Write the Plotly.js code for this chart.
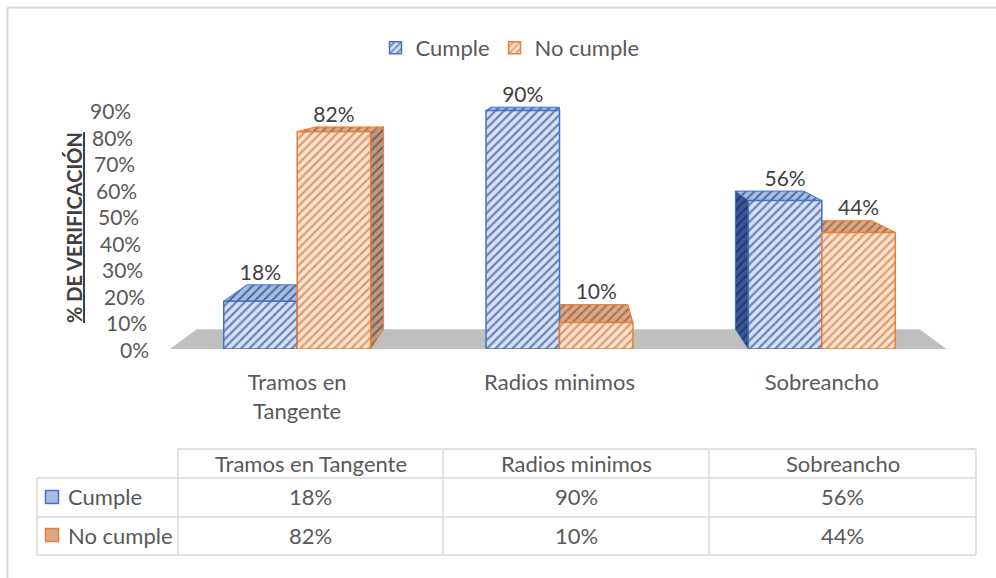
<!DOCTYPE html>
<html><head><meta charset="utf-8">
<script src="https://cdn.plot.ly/plotly-3.0.1.min.js"></script>
<style>body{margin:0;background:#fff}#chart{width:996px;height:578px}</style>
</head><body><div id="chart"></div>
<script>
// ---------- data ----------
const categories = ["Tramos en Tangente", "Radios minimos", "Sobreancho"];
const xTickLabels = ["Tramos en<br>Tangente", "Radios minimos", "Sobreancho"];
const seriesNames = ["Cumple", "No cumple"];
const cumple = [0.18, 0.90, 0.56];
const noCumple = [0.82, 0.10, 0.44];
const yTickValues = [0, 0.1, 0.2, 0.3, 0.4, 0.5, 0.6, 0.7, 0.8, 0.9];
const yTickLabels = ["0%", "10%", "20%", "30%", "40%", "50%", "60%", "70%", "80%", "90%"];
const yTitle = "% DE VERIFICACIÓN";

// ---------- geometry helpers ----------
const W = 996, H = 578, ML = 166, MR = 43, MT = 84, MB = 229;
const PW = W - ML - MR, PH = H - MT - MB;
const pxX = x => (x - ML) / PW;
const pxY = y => (H - MB - y) / PH;
const FONT = 'Lato, "Open Sans", sans-serif';
const GREY = '#595959';
const FS = 22;

const BARGAP = 0.44;
const BW = (1 - BARGAP) / 2;
const VX = 1, VY = 1.08, S = 0.069;   // perspective vanishing point
const back = (x, y) => [x + S * (VX - x), y + S * (VY - y)];

const styles = [
  {line: '#4472c4', bg: '#dae3f3', fg: '#6783c2',
   topBg: '#a9bde3', topFg: '#4d6aa6', sideBg: '#3a5894', sideFg: '#1f3a70'},
  {line: '#ed7d31', bg: '#fde4d2', fg: '#e4996c',
   topBg: '#d9a886', topFg: '#a8714f', sideBg: '#b89a86', sideFg: '#7d604e'}
];
const seriesVals = [cumple, noCumple];

const traces = [];
// floor
const fl0 = -0.485, fl1 = 2.475;
const fb0 = back(fl0, 0), fb1 = back(fl1, 0);
traces.push({type: 'scatter', mode: 'lines', x: [fl0, fl1, fb1[0], fb0[0], fl0], y: [0, 0, fb1[1], fb0[1], 0],
  fill: 'toself', fillcolor: '#bfbfbf', line: {width: 0, color: '#bfbfbf'}, hoverinfo: 'skip', showlegend: false});

function poly(pts, bg, fg, lc) {
  const xs = pts.map(p => p[0]); const ys = pts.map(p => p[1]);
  xs.push(xs[0]); ys.push(ys[0]);
  return {type: 'scatter', mode: 'lines', x: xs, y: ys, fill: 'toself', fillcolor: bg,
    fillpattern: {shape: '/', fgcolor: fg, bgcolor: bg, size: 6, solidity: 0.35},
    line: {width: 1, color: lc}, hoverinfo: 'skip', showlegend: false};
}
// side faces
seriesVals.forEach((vals, i) => {
  vals.forEach((v, j) => {
    const x0 = j + (i === 0 ? -BW : 0), x1 = x0 + BW;
    const st = styles[i];
    if (x1 < VX - 1e-6) {
      traces.push(poly([[x1, 0], [x1, v], back(x1, v), back(x1, 0)], st.sideBg, st.sideFg, st.line));
    } else if (x0 > VX + 1e-6) {
      traces.push(poly([[x0, 0], [x0, v], back(x0, v), back(x0, 0)], st.sideBg, st.sideFg, st.line));
    }
  });
});
// top faces
seriesVals.forEach((vals, i) => {
  vals.forEach((v, j) => {
    const x0 = j + (i === 0 ? -BW : 0), x1 = x0 + BW;
    const st = styles[i];
    traces.push(poly([[x0, v], [x1, v], back(x1, v), back(x0, v)], st.topBg, st.topFg, st.line));
  });
});
// front faces (bars)
seriesVals.forEach((vals, i) => {
  const st = styles[i];
  traces.push({type: 'bar', name: seriesNames[i], x: [0, 1, 2], y: vals, xaxis: 'x2', yaxis: 'y2',
    marker: {color: st.bg, line: {color: st.line, width: 1.5},
      pattern: {shape: '/', fgcolor: st.fg, bgcolor: st.bg, size: 6, solidity: 0.38}},
    hoverinfo: 'skip'});
});
// data labels
seriesVals.forEach((vals, i) => {
  const xs = [], ys = [], tx = [];
  vals.forEach((v, j) => {
    const x0 = j + (i === 0 ? -BW : 0);
    xs.push(x0 + BW / 2); ys.push(back(x0 + BW / 2, v)[1]); tx.push(Math.round(v * 100) + '%');
  });
  traces.push({type: 'scatter', mode: 'text', x: xs, y: ys, text: tx, textposition: 'top center',
    textfont: {family: FONT, size: 21, color: '#404040'}, xaxis: 'x2', yaxis: 'y2',
    hoverinfo: 'skip', showlegend: false, cliponaxis: false});
});

// ---------- annotations & shapes ----------
const annotations = [];
function note(x, y, text, extra) {
  annotations.push(Object.assign({xref: 'paper', yref: 'paper', x: pxX(x), y: pxY(y), text: text,
    xanchor: 'center', yanchor: 'middle', showarrow: false,
    font: {family: FONT, size: FS, color: GREY}}, extra || {}));
}
yTickValues.forEach((v, k) => {
  annotations.push({xref: 'paper', yref: 'y', x: 0, y: v, xanchor: 'right', yanchor: 'middle',
    xshift: -(15 + 18 * v / 0.9), text: yTickLabels[k], showarrow: false,
    font: {family: FONT, size: 21, color: GREY}});
});
note(74, 228, '<b><u>' + yTitle + '</u></b>', {textangle: -90, font: {family: FONT, size: 20, color: '#404040'}});

const colEdges = [178, 443, 709, 976];
const rowEdges = [449, 478, 517, 555];
const tableLeft = 37;
const rowCenters = [497, 535];
const shapes = [];
const LC = '#d9d9d9';
function hline(x0, x1, y) { shapes.push({type: 'line', xref: 'paper', yref: 'paper', x0: pxX(x0), x1: pxX(x1), y0: pxY(y), y1: pxY(y), line: {color: LC, width: 1.5}}); }
function vline(x, y0, y1) { shapes.push({type: 'line', xref: 'paper', yref: 'paper', x0: pxX(x), x1: pxX(x), y0: pxY(y0), y1: pxY(y1), line: {color: LC, width: 1.5}}); }
hline(colEdges[0], colEdges[3], rowEdges[0]);
for (let r = 1; r < 4; r++) hline(tableLeft, colEdges[3], rowEdges[r]);
vline(tableLeft, rowEdges[1], rowEdges[3]);
colEdges.forEach(x => vline(x, rowEdges[0], rowEdges[3]));
// outer chart border (top & left)
shapes.push({type: 'line', xref: 'paper', yref: 'paper', x0: pxX(7.5), x1: pxX(7.5), y0: pxY(7.5), y1: pxY(600), line: {color: LC, width: 2}});
shapes.push({type: 'line', xref: 'paper', yref: 'paper', x0: pxX(7.5), x1: pxX(1010), y0: pxY(7.5), y1: pxY(7.5), line: {color: LC, width: 2}});

categories.forEach((c, j) => {
  const cx = (colEdges[j] + colEdges[j + 1]) / 2;
  note(cx, 463, c);
  seriesVals.forEach((vals, i) => note(cx, rowCenters[i], Math.round(vals[j] * 100) + '%'));
});
seriesNames.forEach((n, i) => {
  note(66, rowCenters[i], n, {xanchor: 'left'});
  shapes.push({type: 'rect', xref: 'paper', yref: 'paper', x0: pxX(45.5), x1: pxX(58.5),
    y0: pxY(rowCenters[i] - 6.5), y1: pxY(rowCenters[i] + 6.5),
    fillcolor: styles[i].topBg, line: {color: styles[i].line, width: 1.5}});
});

const layout = {
  width: W, height: H, margin: {l: ML, r: MR, t: MT, b: MB, pad: 0},
  paper_bgcolor: '#fff', plot_bgcolor: 'rgba(0,0,0,0)',
  font: {family: FONT, color: GREY},
  barmode: 'group', bargap: BARGAP, bargroupgap: 0,
  xaxis: {range: [-0.5, 2.5], tickvals: [0, 1, 2], ticktext: xTickLabels, showgrid: false, zeroline: false,
    showline: false, ticks: '', ticklabelstandoff: 18, tickfont: {family: FONT, size: FS, color: GREY}, fixedrange: true},
  yaxis: {range: [0, 1], showticklabels: false, showgrid: false, zeroline: false, showline: false, ticks: '', fixedrange: true},
  xaxis2: {range: [-0.5, 2.5], overlaying: 'x', anchor: 'y2', visible: false, fixedrange: true},
  yaxis2: {range: [0, 1], overlaying: 'y', anchor: 'x2', visible: false, fixedrange: true},
  showlegend: true,
  legend: {orientation: 'h', x: pxX(510), y: pxY(48), xanchor: 'center', yanchor: 'middle',
    font: {family: FONT, size: FS, color: GREY}, bgcolor: 'rgba(0,0,0,0)'},
  annotations: annotations, shapes: shapes
};
Plotly.newPlot('chart', traces, layout, {displayModeBar: false, staticPlot: true});
</script></body></html>
